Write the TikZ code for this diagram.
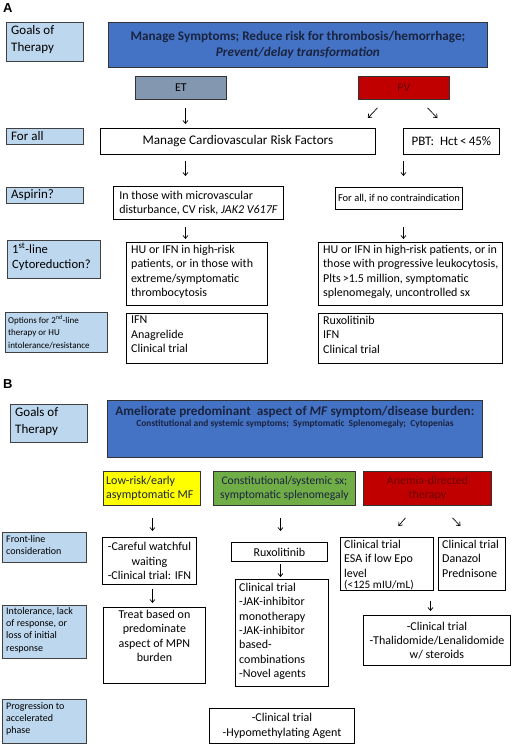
\documentclass[tikz,border=0pt]{standalone}
\usepackage{fontspec}
\setmainfont{Carlito}
\newfontfamily\arialfont{Liberation Sans}
\usetikzlibrary{arrows.meta}
\definecolor{lblue}{HTML}{BDD7EE}
\definecolor{mblue}{HTML}{4472C4}
\definecolor{navy}{HTML}{1A2440}
\definecolor{etgray}{HTML}{8497B0}
\definecolor{pvred}{HTML}{C00000}
\definecolor{dred}{HTML}{6E0000}
\definecolor{mfgreen}{HTML}{70AD47}
\definecolor{mfyellow}{HTML}{FFFF00}
\tikzset{
  boxbase/.style={draw=black, line width=0.9pt, inner sep=0pt, fill=white},
  lbl/.style={boxbase, fill=lblue, draw=black!75},
  plain/.style={boxbase},
  bigblue/.style={boxbase, fill=mblue, draw=black!80},
  etbox/.style={boxbase, fill=etgray, draw=black!80},
  pvbox/.style={boxbase, fill=pvred, draw=black!80},
  ylw/.style={boxbase, fill=mfyellow, draw=black!80},
  grn/.style={boxbase, fill=mfgreen, draw=black!80},
  txt/.style={inner sep=0pt, align=left},
  body/.style={font=\fontsize{12}{14.3}\selectfont},
  small/.style={font=\fontsize{9}{12.5}\selectfont},
  smallb/.style={font=\fontsize{10}{12.3}\selectfont},
  arr/.style={line width=0.7pt, -{Straight Barb[length=3pt,width=5pt]}},
}
% \bx{name}{x1}{y1}{x2}{y2}{style} : box
\newcommand\bx[6]{%
  \pgfmathsetmacro\bxw{#4-#2}\pgfmathsetmacro\bxh{#5-#3}%
  \node[#6, minimum width=\bxw pt, minimum height=\bxh pt, anchor=north west] (#1) at (#2,#3) {};}
\begin{document}
\begin{tikzpicture}[x=1pt,y=-1pt]
\useasboundingbox (0,0) rectangle (520,745);
% ---------------- Panel A ----------------
\node[txt, font=\fontsize{13}{15}\arialfont\bfseries, anchor=north west] (labA) at (3,3) {A};

\bx{ga}{6}{22}{83}{61}{lbl}
\node[txt, anchor=north west, font=\fontsize{13}{17}\selectfont] (gat) at ([xshift=5pt,yshift=-3pt]ga.north west) {Goals of\\Therapy};

\bx{goalA}{108}{22}{487}{67}{bigblue}
\node[txt, align=center, text=navy, font=\fontsize{13.2}{16}\selectfont\bfseries] (goalAt) at (goalA.center) {Manage Symptoms; Reduce risk for thrombosis/hemorrhage;\\\textit{Prevent/delay transformation}};

\bx{et}{135}{76}{226}{99}{etbox}
\node[txt, font=\fontsize{12}{13}\selectfont] (ett) at (et.center) {ET};
\bx{pv}{358}{76}{449}{99}{pvbox}
\node[txt, text=dred, font=\fontsize{12}{13}\selectfont] (pvt) at (pv.center) {PV};

\bx{fa}{6}{128}{83}{144}{lbl}
\node[txt, anchor=west, font=\fontsize{13}{14}\selectfont] (fat) at ([xshift=5pt]fa.west) {For all};
\bx{cv}{100}{128}{375}{154}{plain}
\node[txt, font=\fontsize{13.2}{14}\selectfont] (cvt) at (cv.center) {Manage Cardiovascular Risk Factors};
\bx{pbt}{403}{128}{499}{154}{plain}
\node[txt, font=\fontsize{13}{14}\selectfont] (pbtt) at (pbt.center) {PBT:\ \ Hct\,<\,45\%};

\bx{asp}{6}{187}{83}{203}{lbl}
\node[txt, anchor=west, font=\fontsize{13}{14}\selectfont] (aspt) at ([xshift=5pt]asp.west) {Aspirin?};
\bx{aet}{113}{186}{283}{219}{plain}
\node[txt, body] (aett) at (aet.center) {In those with microvascular\\disturbance, CV risk, \textit{JAK2 V617F}};
\bx{apv}{335}{187}{462}{209}{plain}
\node[txt, font=\fontsize{10.5}{13}\selectfont] (apvt) at (apv.center) {For all, if no contraindication};

\bx{fl}{7}{240}{100}{278}{lbl}
\node[txt, anchor=north west, font=\fontsize{12.6}{15}\selectfont] (flt) at ([xshift=5pt,yshift=-3pt]fl.north west) {1\textsuperscript{st}-line\\Cytoreduction?};
\bx{het}{126}{242}{267}{305}{plain}
\node[txt, anchor=north west, body] (hett) at ([xshift=5pt,yshift=-3pt]het.north west) {HU or IFN in high-risk\\patients, or in those with\\extreme/symptomatic\\thrombocytosis};
\bx{hpv}{318}{242}{502}{305}{plain}
\node[txt, anchor=north west, body] (hpvt) at ([xshift=5pt,yshift=-3pt]hpv.north west) {HU or IFN in high-risk patients, or in\\those with progressive leukocytosis,\\Plts\,>1.5 million, symptomatic\\splenomegaly, uncontrolled sx};

\bx{op}{5}{312}{107}{352}{lbl}
\node[txt, anchor=north west, small] (opt) at ([xshift=3pt,yshift=-3pt]op.north west) {Options for 2\textsuperscript{nd}-line\\therapy or HU\\intolerance/resistance};
\bx{oet}{126}{313}{267}{363}{plain}
\node[txt, anchor=north west, body] (oett) at ([xshift=5pt,yshift=-3pt]oet.north west) {IFN\\Anagrelide\\Clinical trial};
\bx{opv}{318}{313}{502}{363}{plain}
\node[txt, anchor=north west, body] (opvt) at ([xshift=5pt,yshift=-3pt]opv.north west) {Ruxolitinib\\IFN\\Clinical trial};

% arrows A
\draw[arr] ([xshift=4.5pt,yshift=-8pt]et.south) -- ([xshift=-52.5pt,yshift=4pt]cv.north);
\draw[arr] ([xshift=-26.5pt,yshift=-8pt]pv.south) -- ([xshift=-8pt,yshift=10pt]cv.north east);
\draw[arr] ([xshift=23.5pt,yshift=-8pt]pv.south) -- ([xshift=-14pt,yshift=10pt]pbt.north);
\draw[arr] ([xshift=-52.5pt,yshift=-6pt]cv.south) -- ([xshift=-13pt,yshift=10pt]aet.north);
\draw[arr] ([xshift=-48pt,yshift=-6pt]pbt.south) -- ([xshift=4.5pt,yshift=11pt]apv.north);
\draw[arr] ([xshift=-13pt,yshift=-7pt]aet.south) -- ([xshift=-11.5pt,yshift=3pt]het.north);
\draw[arr] ([xshift=4.5pt,yshift=-17pt]apv.south) -- ([xshift=-7pt,yshift=3pt]hpv.north);

% ---------------- Panel B ----------------
\node[txt, font=\fontsize{13}{15}\arialfont\bfseries, anchor=north west] (labB) at (3,379) {B};

\bx{gb}{10}{404}{87}{442}{lbl}
\node[txt, anchor=north west, font=\fontsize{13}{17}\selectfont] (gbt) at ([xshift=5pt,yshift=-3pt]gb.north west) {Goals of\\Therapy};

\bx{goalB}{107}{400}{482}{457}{bigblue}
\node[txt, align=center, text=navy, anchor=north] (goalBt) at ([yshift=-6pt]goalB.north) {{\fontsize{13.2}{15}\selectfont\bfseries Ameliorate predominant\ \ aspect of \textit{MF} symptom/disease burden:}\\[-1pt]{\fontsize{9.4}{11}\selectfont\bfseries Constitutional and systemic symptoms;\ \ Symptomatic\ \ Splenomegaly;\ \ Cytopenias}};

\bx{lr}{103}{471}{200}{505}{ylw}
\node[txt, anchor=west, body, text=navy] (lrt) at ([xshift=3pt]lr.west) {Low-risk/early\\asymptomatic MF};
\bx{cs}{213}{471}{355}{505}{grn}
\node[txt, align=center, font=\fontsize{11.6}{14}\selectfont, text=navy] (cst) at (cs.center) {Constitutional/systemic sx;\\symptomatic splenomegaly};
\bx{an}{363}{471}{491}{505}{pvbox}
\node[txt, align=center, body, text=dred] (ant) at (an.center) {Anemia-directed\\therapy};

\bx{fr}{2}{532}{86}{562}{lbl}
\node[txt, anchor=north west, smallb] (frt) at ([xshift=4pt,yshift=-3pt]fr.north west) {Front-line\\consideration};
\bx{ww}{102}{537}{196}{584}{plain}
\node[txt, align=center, body] (wwt) at (ww.center) {-Careful watchful\\waiting\\-Clinical trial: IFN};
\bx{rx}{231}{542}{327}{561}{plain}
\node[txt, body] (rxt) at (rx.center) {Ruxolitinib};
\bx{esa}{340}{537}{433}{590}{plain}
\node[txt, anchor=north west, body] (esat) at ([xshift=4pt,yshift=-3pt]esa.north west) {Clinical trial\\ESA if low Epo\\level\\[-3pt]{\fontsize{11.3}{12}\selectfont(<125 mIU/mL)}};
\bx{dan}{438}{537}{505}{590}{plain}
\node[txt, anchor=north west, body] (dant) at ([xshift=4pt,yshift=-3pt]dan.north west) {Clinical trial\\Danazol\\Prednisone};

\bx{it}{2}{605}{86}{658}{lbl}
\node[txt, anchor=north west, smallb] (itt) at ([xshift=4pt,yshift=-2pt]it.north west) {Intolerance, lack\\of response, or\\loss of initial\\response};
\bx{tr}{103}{607}{205}{683}{plain}
\node[txt, align=center, anchor=north, body] (trt) at ([yshift=-3pt]tr.north) {Treat based on\\predominate\\aspect of MPN\\burden};
\bx{jak}{235}{579}{328}{686}{plain}
\node[txt, anchor=north west, body] (jakt) at ([xshift=4pt,yshift=-4pt]jak.north west) {Clinical trial\\-JAK-inhibitor\\monotherapy\\-JAK-inhibitor\\based-\\combinations\\-Novel agents};
\bx{th}{363}{615}{510}{665}{plain}
\node[txt, align=center, body] (tht) at (th.center) {-Clinical trial\\-Thalidomide/Lenalidomide\\w/ steroids};

\bx{pr}{2}{699}{86}{743}{lbl}
\node[txt, anchor=north west, smallb] (prt) at ([xshift=4pt,yshift=-3pt]pr.north west) {Progression to\\accelerated\\phase};
\bx{hy}{209}{708}{354}{743}{plain}
\node[txt, align=center, body] (hyt) at (hy.center) {-Clinical trial\\-Hypomethylating Agent};

% arrows B
\draw[arr] ([xshift=0.5pt,yshift=-12pt]lr.south) -- ([xshift=3pt,yshift=6pt]ww.north);
\draw[arr] ([xshift=-4pt,yshift=-12pt]cs.south) -- ([xshift=1pt,yshift=11pt]rx.north);
\draw[arr] ([xshift=-22pt,yshift=-12pt]an.south) -- ([xshift=11.5pt,yshift=11pt]esa.north);
\draw[arr] ([xshift=25pt,yshift=-12pt]an.south) -- ([xshift=-11.5pt,yshift=11pt]dan.north);
\draw[arr] ([xshift=3pt,yshift=-4pt]ww.south) -- ([xshift=-2pt,yshift=4pt]tr.north);
\draw[arr] ([xshift=1pt,yshift=-2pt]rx.south) -- ([xshift=-1.5pt,yshift=2pt]jak.north);
\draw[arr] ([xshift=43.5pt,yshift=-10pt]esa.south) -- ([xshift=-6.5pt,yshift=4pt]th.north);
\end{tikzpicture}
\end{document}
